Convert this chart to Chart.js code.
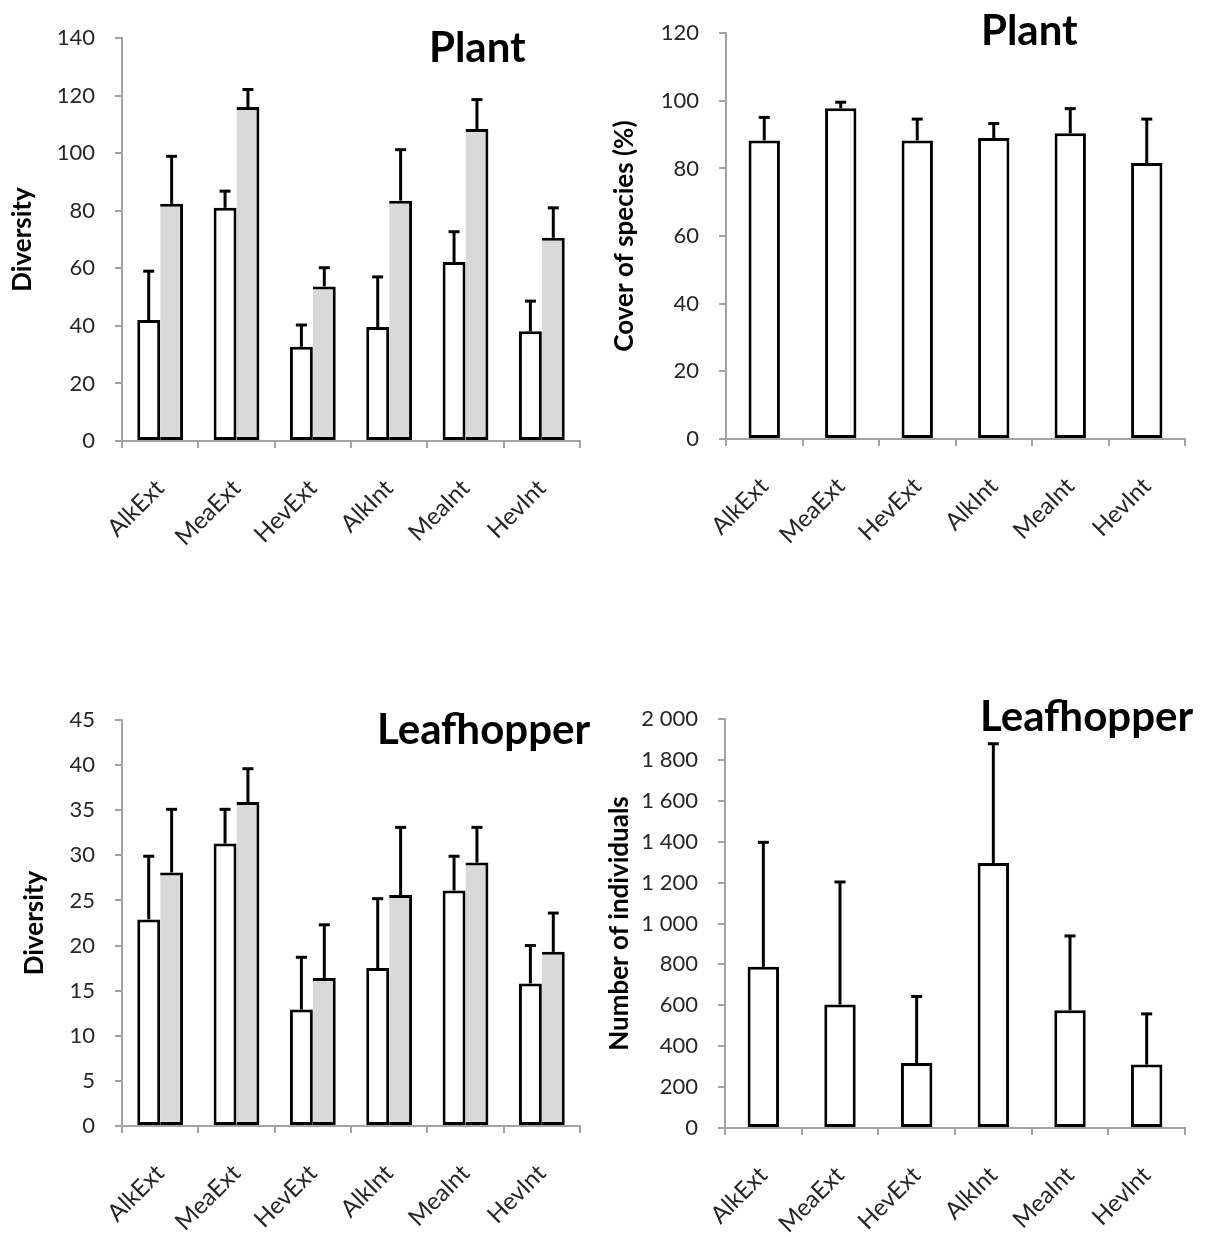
<!DOCTYPE html>
<html>
<head>
<meta charset="utf-8">
<script src="https://cdn.jsdelivr.net/npm/chart.js@4.4.1/dist/chart.umd.min.js"></script>
<style>
  html, body { margin: 0; padding: 0; background: #fff; }
  body { width: 1205px; height: 1237px; position: relative; overflow: hidden; }
  .box { position: absolute; }
  .ttl { position: absolute; font-family: Lato, "Open Sans", sans-serif; font-weight: bold; font-size: 42px; color: #000; white-space: nowrap; line-height: 1; }
</style>
</head>
<body>
<div class="box" style="left:0;top:0;width:600px;height:580px"><canvas id="c1"></canvas></div>
<div class="box" style="left:600px;top:0;width:605px;height:580px"><canvas id="c2"></canvas></div>
<div class="box" style="left:0;top:680px;width:600px;height:557px"><canvas id="c3"></canvas></div>
<div class="box" style="left:600px;top:680px;width:605px;height:557px"><canvas id="c4"></canvas></div>
<div class="ttl" style="left:429px;top:25px">Plant</div>
<div class="ttl" style="left:981px;top:8px">Plant</div>
<div class="ttl" style="left:377px;top:707px">Leafhopper</div>
<div class="ttl" style="left:980px;top:694px">Leafhopper</div>
<script>
const categories = ['AlkExt', 'MeaExt', 'HevExt', 'AlkInt', 'MeaInt', 'HevInt'];

// Plant diversity (white = first series, grey = second series); *Err = top of error bar
const plantDivWhite    = [42.0, 81.0, 32.7, 39.6, 62.2, 38.1];
const plantDivWhiteErr = [59.0, 86.8, 40.3, 57.0, 72.7, 48.6];
const plantDivGrey     = [82.4, 116.0, 53.7, 83.5, 108.4, 70.6];
const plantDivGreyErr  = [98.9, 122.1, 60.2, 101.2, 118.6, 81.0];

// Plant cover of species (%)
const plantCover    = [88.3, 97.8, 88.3, 89.0, 90.4, 81.6];
const plantCoverErr = [95.1, 99.6, 94.6, 93.3, 97.7, 94.6];

// Leafhopper diversity
const lhDivWhite    = [22.9, 31.3, 12.9, 17.5, 26.1, 15.8];
const lhDivWhiteErr = [29.9, 35.1, 18.7, 25.2, 29.9, 20.0];
const lhDivGrey     = [28.1, 35.9, 16.4, 25.6, 29.2, 19.3];
const lhDivGreyErr  = [35.1, 39.6, 22.3, 33.1, 33.1, 23.6];

// Leafhopper number of individuals
const lhNum    = [788, 604, 318, 1296, 576, 310];
const lhNumErr = [1397, 1203, 643, 1879, 939, 558];

const FONT = 'Lato, "Open Sans", sans-serif';
const AXIS_GREY = '#a3a3a3';
const TICK_COLOR = '#262626';

const errorBars = {
  id: 'errorBars',
  afterDatasetsDraw(chart) {
    const ctx = chart.ctx;
    const y = chart.scales.y;
    chart.data.datasets.forEach((ds, di) => {
      if (!ds.errTop) return;
      const meta = chart.getDatasetMeta(di);
      meta.data.forEach((el, i) => {
        const top = y.getPixelForValue(ds.errTop[i]);
        const base = el.y;
        ctx.save();
        ctx.strokeStyle = '#000';
        ctx.lineWidth = 3;
        ctx.beginPath();
        ctx.moveTo(el.x, base);
        ctx.lineTo(el.x, top);
        ctx.stroke();
        ctx.beginPath();
        ctx.moveTo(el.x - 5.5, top);
        ctx.lineTo(el.x + 5.5, top);
        ctx.stroke();
        ctx.restore();
      });
    });
  }
};

function fmtSpace(v) {
  return String(v).replace(/\B(?=(\d{3})+(?!\d))/g, ' ');
}

function makeChart(id, cfg) {
  const {datasets, yMax, yStep, yTitle, yWidth, xHeight, padTop, padRight, titlePad, catPct, tickFmt} = cfg;
  return new Chart(document.getElementById(id), {
    type: 'bar',
    data: { labels: categories, datasets },
    options: {
      responsive: true,
      maintainAspectRatio: false,
      animation: false,
      events: [],
      layout: { padding: { top: padTop, right: padRight, left: 0, bottom: 0 } },
      plugins: { legend: { display: false }, tooltip: { enabled: false } },
      datasets: { bar: { categoryPercentage: catPct, barPercentage: 1.0 } },
      scales: {
        x: {
          grid: { display: true, drawOnChartArea: false, offset: true, color: AXIS_GREY, lineWidth: 2, tickLength: 7 },
          border: { display: true, color: AXIS_GREY, width: 2 },
          ticks: {
            color: TICK_COLOR, font: { family: FONT, size: 24 },
            minRotation: 45, maxRotation: 45, padding: 26, autoSkip: false
          },
          afterFit(scale) { scale.height = xHeight; }
        },
        y: {
          min: 0, max: yMax,
          grid: { display: true, drawOnChartArea: false, color: AXIS_GREY, lineWidth: 2, tickLength: 7 },
          border: { display: true, color: AXIS_GREY, width: 2 },
          ticks: {
            stepSize: yStep, color: TICK_COLOR, padding: 20,
            font: { family: FONT, size: 22 },
            callback: tickFmt || ((v) => v)
          },
          title: {
            display: true, text: yTitle, color: '#000',
            font: { family: FONT, size: 26, weight: 'bold' },
            padding: { top: titlePad, bottom: 0 }
          },
          afterFit(scale) { scale.width = yWidth; }
        }
      }
    },
    plugins: [errorBars]
  });
}

function pairSets(w, we, g, ge) {
  return [
    { data: w, errTop: we, backgroundColor: '#ffffff', borderColor: '#000', borderSkipped: false,
      borderWidth: { top: 3, left: 3, right: 3, bottom: 3 } },
    { data: g, errTop: ge, backgroundColor: '#d9d9d9', borderColor: '#000', borderSkipped: false,
      borderWidth: { top: 3, left: 0, right: 3, bottom: 3 } }
  ];
}
function singleSet(v, ve) {
  return [{ data: v, errTop: ve, backgroundColor: '#ffffff', borderColor: '#000', borderSkipped: false,
    borderWidth: { top: 3, left: 3, right: 3, bottom: 3 } }];
}

makeChart('c1', {
  datasets: pairSets(plantDivWhite, plantDivWhiteErr, plantDivGrey, plantDivGreyErr),
  yMax: 140, yStep: 20, yTitle: 'Diversity',
  yWidth: 122, xHeight: 580 - 441, padTop: 38, padRight: 20, titlePad: 7, catPct: 0.6
});
makeChart('c2', {
  datasets: singleSet(plantCover, plantCoverErr),
  yMax: 120, yStep: 20, yTitle: 'Cover of species (%)',
  yWidth: 126, xHeight: 580 - 439, padTop: 33, padRight: 20, titlePad: 9, catPct: 0.41
});
makeChart('c3', {
  datasets: pairSets(lhDivWhite, lhDivWhiteErr, lhDivGrey, lhDivGreyErr),
  yMax: 45, yStep: 5, yTitle: 'Diversity',
  yWidth: 122, xHeight: 557 - 446, padTop: 40, padRight: 20, titlePad: 19, catPct: 0.6
});
makeChart('c4', {
  datasets: singleSet(lhNum, lhNumErr),
  yMax: 2000, yStep: 200, yTitle: 'Number of individuals',
  yWidth: 125, xHeight: 557 - 448, padTop: 39, padRight: 20, titlePad: 4, catPct: 0.41,
  tickFmt: fmtSpace
});
</script>
</body>
</html>
